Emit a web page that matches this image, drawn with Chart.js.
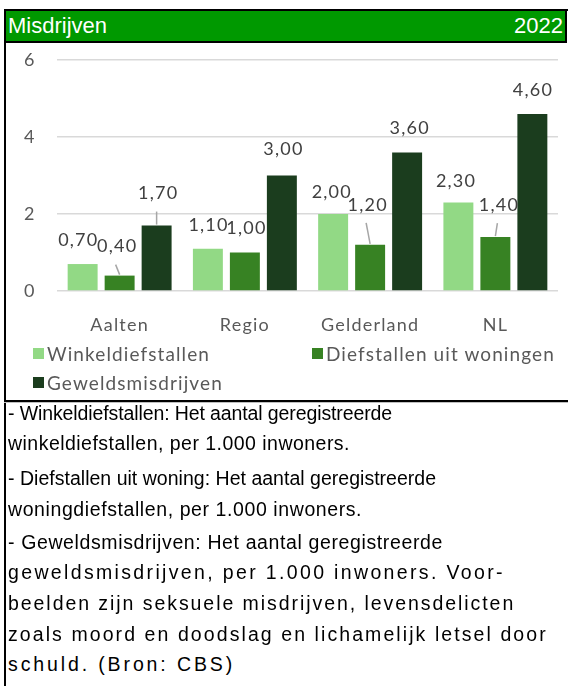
<!DOCTYPE html>
<html lang="nl">
<head>
<meta charset="utf-8">
<title>Misdrijven 2022</title>
<script src="https://cdn.jsdelivr.net/npm/chart.js@4.4.1/dist/chart.umd.min.js"></script>
<style>
    html, body { margin: 0; padding: 0; background: #fff; }
    body { width: 568px; height: 686px; position: relative; overflow: hidden; font-family: "Liberation Sans", Arial, sans-serif; }
    #kader { position: absolute; left: 4px; top: 9px; right: 0; bottom: 0; border-left: 2px solid #000; border-top: 2px solid #000; }
    #kop { position: absolute; left: 6px; top: 11px; width: 559px; height: 30px; background: #009900; border-bottom: 2px solid #000; border-right: 2px solid #000; color: #fff; font-size: 22px; line-height: 30px; }
    #kop .titel { position: absolute; left: 2px; top: 0; }
    #kop .jaar { position: absolute; right: 2px; top: 0; }
    #grafiek { position: absolute; left: 6px; top: 44px; }
    #legenda { position: absolute; left: 33px; top: 339px; display: grid; grid-template-columns: 279px auto; grid-auto-rows: 29px; font-family: Lato, sans-serif; font-size: 19px; letter-spacing: 1.1px; color: #595959; }
    #legenda .item { display: flex; align-items: center; }
    #legenda .blok { width: 11px; height: 11px; margin-right: 3px; }
    #scheiding { position: absolute; left: 4px; right: 0; top: 400px; height: 2px; background: #000; border-bottom: 1px solid #bfbfbf; }
    #toelichting .regel { position: absolute; left: 8px; height: 30px; line-height: 30px; font-size: 19.5px; color: #000; white-space: nowrap; }
</style>
</head>
<body>
<div id="kader"></div>
<div id="kop"><span class="titel">Misdrijven</span><span class="jaar">2022</span></div>
<canvas id="grafiek" width="560" height="300"></canvas>
<div id="legenda"></div>
<div id="scheiding"></div>
<div id="toelichting"></div>

<script>
// Gegevens
const gebieden = ['Aalten', 'Regio', 'Gelderland', 'NL'];
const reeksNamen = ['Winkeldiefstallen', 'Diefstallen uit woningen', 'Geweldsmisdrijven'];
const winkeldiefstallen = [0.70, 1.10, 2.00, 2.30];
const diefstallenWoningen = [0.40, 1.00, 1.20, 1.40];
const geweldsmisdrijven = [1.70, 3.00, 3.60, 4.60];
const yTicks = [0, 2, 4, 6];

// Toelichting: tekst per regel
const toelichtingRegels = [
    '- Winkeldiefstallen: Het aantal geregistreerde',
    'winkeldiefstallen, per 1.000 inwoners.',
    '- Diefstallen uit woning: Het aantal geregistreerde',
    'woningdiefstallen, per 1.000 inwoners.',
    '- Geweldsmisdrijven: Het aantal geregistreerde',
    'geweldsmisdrijven, per 1.000 inwoners. Voor-',
    'beelden zijn seksuele misdrijven, levensdelicten',
    'zoals moord en doodslag en lichamelijk letsel door',
    'schuld. (Bron: CBS)'
];
// midden (y) en rechtereinde (x) van elke regel, zoals in de Excel-export
const regelMidden = [413, 443, 478, 509, 542, 572, 603, 634, 664];
const regelEinde = [392, 350, 436, 362, 443, 505, 515, 548, 235];

// Stijl
const kleuren = ['#92d985', '#378223', '#1b3d1e'];
const tekstKleur = '#595959';
const labelFont = '18px Lato';

// Verschuiving van de waardelabels t.o.v. de bovenkant van de staaf (px)
const labelVerschuiving = [
    [[-5, -24], [0, -23], [-2, -22], [-3, -21]],
    [[-3, -29], [1, -24], [-3, -40], [3, -32]],
    [[1, -32], [1, -26], [2, -24], [0, -24]]
];
const verbindingslijn = [
    [false, false, false, false],
    [true, false, true, true],
    [true, false, false, false]
];

function formatWaarde(v) {
    return v.toFixed(2).replace('.', ',');
}

// Plugin voor de waardelabels
const waardeLabels = {
    id: 'waardeLabels',
    afterDatasetsDraw(chart) {
        const ctx = chart.ctx;
        ctx.save();
        ctx.font = labelFont;
        ctx.letterSpacing = '1.2px';
        ctx.textAlign = 'center';
        ctx.textBaseline = 'middle';
        chart.data.datasets.forEach((ds, i) => {
            const meta = chart.getDatasetMeta(i);
            meta.data.forEach((staaf, j) => {
                const [dx, dy] = labelVerschuiving[i][j];
                const lx = staaf.x + dx;
                const ly = staaf.y + dy;
                if (verbindingslijn[i][j]) {
                    ctx.strokeStyle = '#a6a6a6';
                    ctx.lineWidth = 1.5;
                    ctx.beginPath();
                    ctx.moveTo(lx - 1, ly + 18);
                    ctx.lineTo(staaf.x, staaf.y - 1);
                    ctx.stroke();
                }
                ctx.fillStyle = '#404040';
                ctx.fillText(formatWaarde(ds.data[j]), lx + 0.6, ly);
            });
        });
        ctx.restore();
    }
};

// Wat extra letterafstand voor de categorielabels (zoals in Excel)
const ruimeLabels = {
    id: 'ruimeLabels',
    beforeDraw(chart) {
        const sx = chart.scales.x;
        if (sx._ruim) return;
        const origineel = sx.drawLabels.bind(sx);
        sx.drawLabels = function (area) {
            chart.ctx.save();
            chart.ctx.letterSpacing = '1.2px';
            origineel(area);
            chart.ctx.restore();
        };
        sx._ruim = true;
    }
};

const reeksen = [winkeldiefstallen, diefstallenWoningen, geweldsmisdrijven];

document.fonts.load(labelFont).then(tekenAlles, tekenAlles);

function tekenAlles() {
    tekenGrafiek();
    tekenToelichting();
}

function tekenGrafiek() {
    const ctx = document.getElementById('grafiek').getContext('2d');
    new Chart(ctx, {
        type: 'bar',
        data: {
            labels: gebieden,
            datasets: reeksen.map((data, i) => ({
                label: reeksNamen[i],
                data: data,
                backgroundColor: kleuren[i],
                borderWidth: 0,
                categoryPercentage: 0.886,
                barPercentage: 0.81
            }))
        },
        options: {
            responsive: false,
            animation: false,
            layout: { padding: { top: 16, right: 8, bottom: 0, left: 18 } },
            plugins: {
                legend: { display: false },
                tooltip: { enabled: false }
            },
            scales: {
                x: {
                    grid: { display: false },
                    border: { display: false },
                    ticks: { color: tekstKleur, font: { family: 'Lato', size: 18 }, padding: 15 },
                    afterFit(scale) { scale.height = 53; }
                },
                y: {
                    min: 0,
                    max: 6,
                    afterBuildTicks(scale) { scale.ticks = yTicks.map(v => ({ value: v })); },
                    grid: { color: '#d9d9d9', lineWidth: 1.5, drawTicks: false },
                    border: { display: false },
                    ticks: { color: tekstKleur, font: { family: 'Lato', size: 18 }, padding: 0, crossAlign: 'far' },
                    afterFit(scale) { scale.width = 33; }
                }
            }
        },
        plugins: [waardeLabels, ruimeLabels]
    });

    // Legenda
    document.getElementById('legenda').innerHTML = reeksNamen.map((naam, i) => `
        <div class="item"><span class="blok" style="background:${kleuren[i]}"></span>${naam}</div>
    `).join('');
}

function tekenToelichting() {
    const doos = document.getElementById('toelichting');
    toelichtingRegels.forEach((tekst, i) => {
        const regel = document.createElement('div');
        regel.className = 'regel';
        regel.textContent = tekst;
        regel.style.top = (regelMidden[i] - 15) + 'px';
        doos.appendChild(regel);
        // letterafstand zo kiezen dat de regel eindigt waar hij in het origineel eindigt
        const breedte = regel.getBoundingClientRect().width;
        const extra = (regelEinde[i] - 8 - breedte) / tekst.length;
        regel.style.letterSpacing = extra.toFixed(2) + 'px';
    });
}
</script>
</body>
</html>
